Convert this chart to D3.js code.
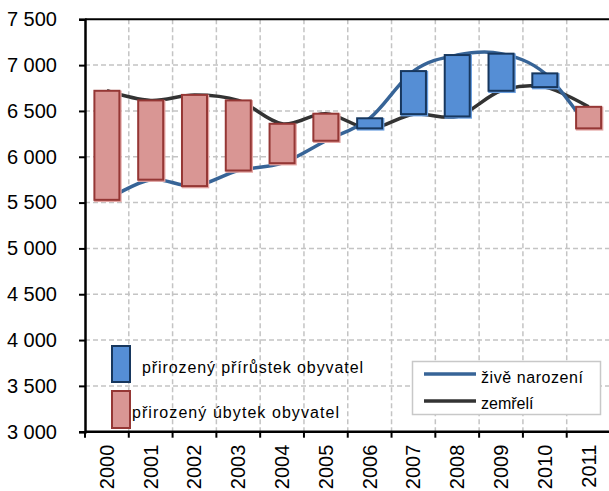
<!DOCTYPE html>
<html>
<head>
<meta charset="utf-8">
<script src="https://cdn.jsdelivr.net/npm/d3@7"></script>
<style>
  body { margin: 0; background: #fff; }
  svg { display: block; font-family: "Liberation Sans", Arial, sans-serif; }
</style>
</head>
<body>
<svg width="609" height="491"></svg>
<script>
// data
var years = ["2000", "2001", "2002", "2003", "2004", "2005", "2006", "2007", "2008", "2009", "2010", "2011"];
var births = [5530, 5750, 5680, 5850, 5930, 6175, 6420, 6935, 7110, 7125, 6910, 6310];
var deaths = [6720, 6615, 6675, 6615, 6360, 6470, 6310, 6465, 6440, 6720, 6760, 6545];
var yTicks = [3000, 3500, 4000, 4500, 5000, 5500, 6000, 6500, 7000, 7500];

var rows = years.map((y, i) => ({ year: y, births: births[i], deaths: deaths[i] }));

var svg = d3.select("svg");
var plotL = 85, plotR = 610.5, plotT = 19.3, plotB = 431.7;

var x = d3.scaleBand().domain(years).range([plotL, plotR]);
var y = d3.scaleLinear().domain([3000, 7500]).range([plotB, plotT]);

var fmt = d3.formatLocale({ decimal: ",", thousands: "\u00a0", grouping: [3], currency: ["", ""] }).format(",d");

// grid
svg.append("g").selectAll("line")
    .data(yTicks.slice(1, -1))
    .enter().append("line")
    .attr("x1", plotL).attr("x2", plotR)
    .attr("y1", d => y(d)).attr("y2", d => y(d))
    .attr("stroke", "#c4c4c4").attr("stroke-width", 1.5).attr("stroke-dasharray", "5,3");

svg.append("g").selectAll("line")
    .data(years.slice(1))
    .enter().append("line")
    .attr("x1", d => x(d)).attr("x2", d => x(d))
    .attr("y1", plotT).attr("y2", plotB)
    .attr("stroke", "#c4c4c4").attr("stroke-width", 1.5).attr("stroke-dasharray", "5,3");

// lines
var line = d3.line()
    .x(d => x(d.year) + x.bandwidth() / 2)
    .curve(d3.curveCatmullRom.alpha(0));

svg.append("path")
    .datum(rows)
    .attr("d", line.y(d => y(d.deaths)))
    .attr("fill", "none").attr("stroke", "#333333").attr("stroke-width", 3.5);

svg.append("path")
    .datum(rows)
    .attr("d", line.y(d => y(d.births)))
    .attr("fill", "none").attr("stroke", "#376497").attr("stroke-width", 3.5);

// up/down bars
var barW = 25;
function colors(d) {
    return d.births > d.deaths
        ? { fill: "#558ed5", stroke: "#17375e", glow: "#6a9fe0" }
        : { fill: "#d99694", stroke: "#953735", glow: "#e3a5a3" };
}

var bars = svg.append("g").selectAll("g")
    .data(rows)
    .enter().append("g");

bars.append("rect")
    .attr("x", d => x(d.year) + x.bandwidth() / 2 - barW / 2 + 1)
    .attr("y", d => y(Math.max(d.births, d.deaths)) + 1)
    .attr("width", barW)
    .attr("height", d => y(Math.min(d.births, d.deaths)) - y(Math.max(d.births, d.deaths)))
    .attr("fill", "none")
    .attr("stroke", d => colors(d).glow)
    .attr("stroke-width", 2.5);

bars.append("rect")
    .attr("x", d => x(d.year) + x.bandwidth() / 2 - barW / 2)
    .attr("y", d => y(Math.max(d.births, d.deaths)))
    .attr("width", barW)
    .attr("height", d => y(Math.min(d.births, d.deaths)) - y(Math.max(d.births, d.deaths)))
    .attr("fill", d => colors(d).fill)
    .attr("stroke", d => colors(d).stroke)
    .attr("stroke-width", 2);

// axes
svg.append("line")
    .attr("x1", plotL).attr("x2", plotR).attr("y1", plotT).attr("y2", plotT)
    .attr("stroke", "#000").attr("stroke-width", 2);

var yAxis = svg.append("g")
    .attr("transform", `translate(${plotL},0)`)
    .call(d3.axisLeft(y).tickValues(yTicks).tickFormat(fmt).tickSize(6).tickPadding(22));
yAxis.select(".domain").attr("stroke-width", 2.5);
yAxis.selectAll(".tick line").attr("stroke-width", 2);
yAxis.selectAll("text").attr("font-size", 20).attr("fill", "#000")
    .attr("font-family", "Liberation Sans, Arial, sans-serif");

var xAxis = svg.append("g")
    .attr("transform", `translate(0,${plotB})`);
xAxis.append("line")
    .attr("x1", plotL).attr("x2", plotR).attr("stroke", "#000").attr("stroke-width", 2.5);
xAxis.selectAll(".tk")
    .data(years.concat(["end"]))
    .enter().append("line")
    .attr("x1", (d, i) => plotL + i * x.step()).attr("x2", (d, i) => plotL + i * x.step())
    .attr("y1", 0).attr("y2", 6)
    .attr("stroke", "#000").attr("stroke-width", 2);
xAxis.selectAll("text")
    .data(years)
    .enter().append("text")
    .attr("transform", d => `translate(${x(d) + x.bandwidth() / 2 + 7},13) rotate(-90)`)
    .attr("text-anchor", "end")
    .attr("font-size", 20)
    .text(d => d);

// legend for bars
var leg1 = svg.append("g");
leg1.append("rect").attr("x", 112).attr("y", 346).attr("width", 18).attr("height", 36)
    .attr("fill", "#558ed5").attr("stroke", "#17375e").attr("stroke-width", 2);
leg1.append("rect").attr("x", 112).attr("y", 391).attr("width", 18).attr("height", 37)
    .attr("fill", "#d99694").attr("stroke", "#953735").attr("stroke-width", 2);
leg1.append("text").attr("x", 142).attr("y", 373).attr("font-size", 16)
    .attr("textLength", 221).text("přirozený přírůstek obyvatel");
leg1.append("text").attr("x", 132).attr("y", 418).attr("font-size", 16)
    .attr("textLength", 207).text("přirozený úbytek obyvatel");

// legend for lines
var leg2 = svg.append("g");
leg2.append("rect").attr("x", 412.5).attr("y", 361.5).attr("width", 188).attr("height", 53)
    .attr("fill", "#fff").attr("stroke", "#c8c8c8").attr("stroke-width", 1.5);
leg2.append("line").attr("x1", 424).attr("x2", 476).attr("y1", 374).attr("y2", 374)
    .attr("stroke", "#376497").attr("stroke-width", 3.5);
leg2.append("line").attr("x1", 424).attr("x2", 476).attr("y1", 401).attr("y2", 401)
    .attr("stroke", "#333333").attr("stroke-width", 3.5);
leg2.append("text").attr("x", 481).attr("y", 382.5).attr("font-size", 16)
    .attr("textLength", 102).text("živě narození");
leg2.append("text").attr("x", 481).attr("y", 409).attr("font-size", 16).text("zemřelí");
</script>
</body>
</html>
